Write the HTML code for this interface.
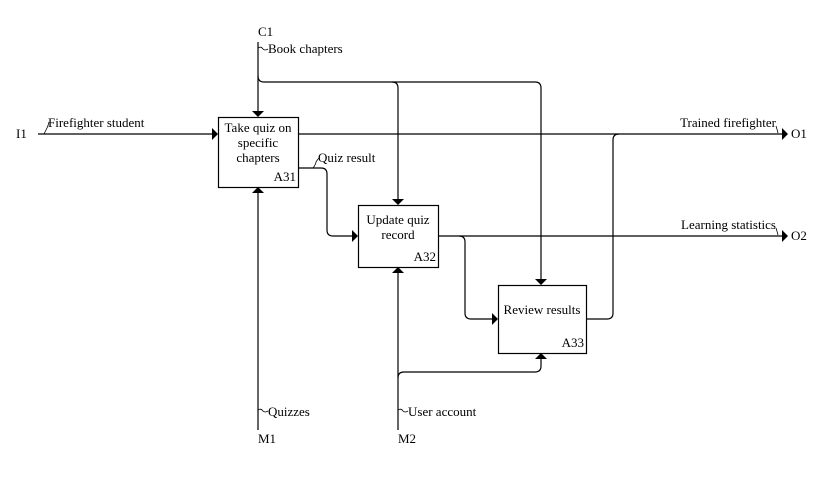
<!DOCTYPE html>
<html><head><meta charset="utf-8"><style>
html,body{margin:0;padding:0;background:#fff;width:825px;height:478px;overflow:hidden}
text{font-family:"Liberation Serif",serif;font-size:13px;fill:#000}
</style></head><body>
<svg width="825" height="478" xmlns="http://www.w3.org/2000/svg">
<g fill="none" stroke="#000" stroke-width="1.2">
<rect x="218.5" y="117.5" width="80" height="70"/>
<rect x="358.5" y="205.5" width="80" height="62"/>
<rect x="498.5" y="285.5" width="88" height="68"/>
<path d="M38 134 H213"/>
<path d="M298 134 H782"/>
<path d="M587 319 H607 Q613 319 613 313 V140 Q613 134 619 134"/>
<path d="M298 168 H321 Q327 168 327 174 V230 Q327 236 333 236 H353"/>
<path d="M438 236 H782"/>
<path d="M459 236 Q465 236 465 242 V313 Q465 319 471 319 H493"/>
<path d="M258 42 V112"/>
<path d="M258 76 Q258 82 264 82 H392 Q398 82 398 88 V200"/>
<path d="M392 82 H535 Q541 82 541 88 V280"/>
<path d="M258 430 V192"/>
<path d="M398 430 V272"/>
<path d="M398 378 Q398 372 404 372 H535 Q541 372 541 366 V358"/>
<path d="M44 134 Q46 130 47 128 Q48 126 49 122" stroke-width="0.8"/>
<path d="M258 48 Q261 46 263 49 Q265 51 268 49" stroke-width="0.8"/>
<path d="M258 410 Q261 408 263 411 Q265 413 268 411" stroke-width="0.8"/>
<path d="M398 410 Q401 408 403 411 Q405 413 408 411" stroke-width="0.8"/>
<path d="M313 168 Q316 164 316 162 Q317 160 319 158" stroke-width="0.8"/>
<path d="M776 126 Q777 129 778 133" stroke-width="0.8"/>
<path d="M776 228 Q777 231 778 235" stroke-width="0.8"/>
</g>
<g fill="#000">
<path d="M218 134 l-6 -6 v12z"/>
<path d="M358 236 l-6 -6 v12z"/>
<path d="M498 319 l-6 -6 v12z"/>
<path d="M788 134 l-6 -6 v12z"/>
<path d="M788 236 l-6 -6 v12z"/>
<path d="M258 117 l-6 -6 h12z"/>
<path d="M398 205 l-6 -6 h12z"/>
<path d="M541 285 l-6 -6 h12z"/>
<path d="M258 187 l-6 6 h12z"/>
<path d="M398 267 l-6 6 h12z"/>
<path d="M541 353 l-6 6 h12z"/>
</g>
<text x="258" y="132" text-anchor="middle">Take quiz on</text>
<text x="258" y="147" text-anchor="middle">specific</text>
<text x="258" y="162" text-anchor="middle">chapters</text>
<text x="296" y="181" text-anchor="end">A31</text>
<text x="398" y="224" text-anchor="middle">Update quiz</text>
<text x="398" y="239" text-anchor="middle">record</text>
<text x="436" y="261" text-anchor="end">A32</text>
<text x="542" y="314" text-anchor="middle">Review results</text>
<text x="584" y="347" text-anchor="end">A33</text>
<text x="16" y="138">I1</text>
<text x="48" y="127">Firefighter student</text>
<text x="258" y="36">C1</text>
<text x="268" y="53">Book chapters</text>
<text x="318" y="162">Quiz result</text>
<text x="776" y="127" text-anchor="end">Trained firefighter</text>
<text x="776" y="229" text-anchor="end">Learning statistics</text>
<text x="791" y="138">O1</text>
<text x="791" y="240">O2</text>
<text x="268" y="416">Quizzes</text>
<text x="408" y="416">User account</text>
<text x="258" y="443">M1</text>
<text x="398" y="443">M2</text>
</svg>
</body></html>
